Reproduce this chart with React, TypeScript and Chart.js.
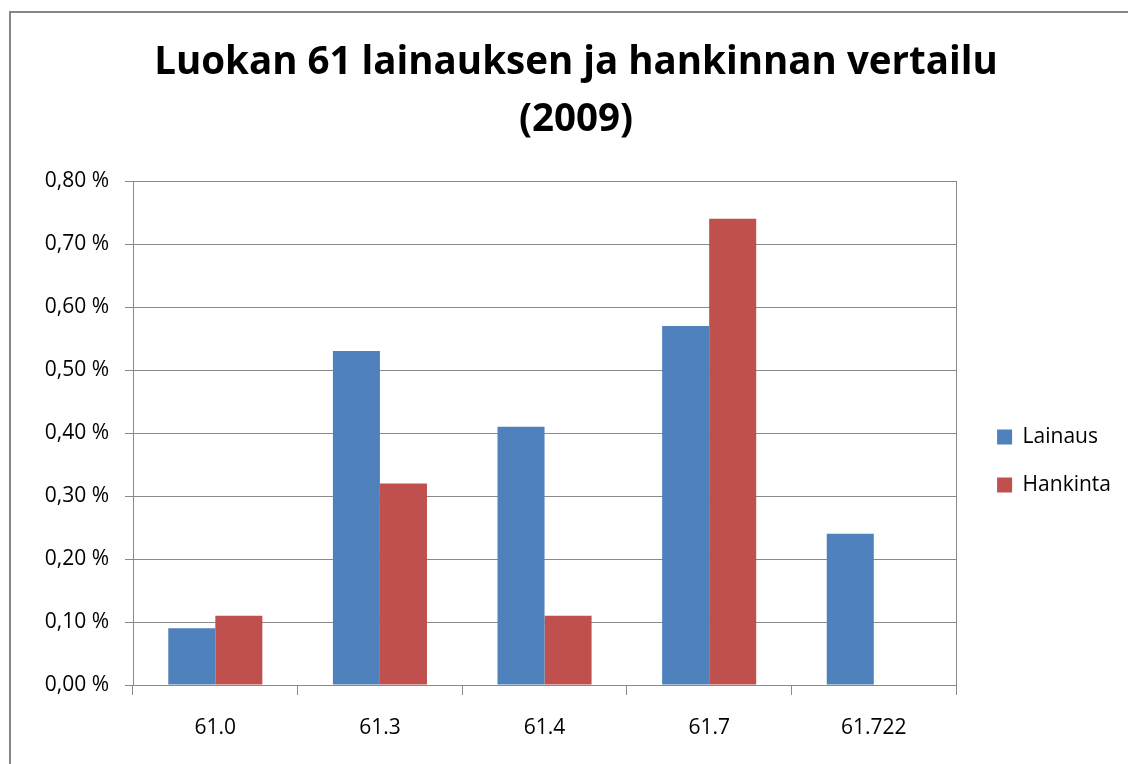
import { useEffect, useRef } from 'react';
import { Chart, registerables } from 'chart.js';

Chart.register(...registerables);

const categories = ['61.0', '61.3', '61.4', '61.7', '61.722'];
const lainaus = [0.09, 0.53, 0.41, 0.57, 0.24];
const hankinta: (number | null)[] = [0.11, 0.32, 0.11, 0.74, null];
const titleLines = ['Luokan 61 lainauksen ja hankinnan vertailu', '(2009)'];
const seriesNames = ['Lainaus', 'Hankinta'];
const yMin = 0;
const yMax = 0.8;
const yStep = 0.1;

const FONT = "'Open Sans', 'Noto Sans', sans-serif";
const GRID = '#8a8a8a';
const PAD_LEFT = 31;

export default function App() {
  const ref = useRef<HTMLCanvasElement | null>(null);

  useEffect(() => {
    if (!ref.current) return;
    const chart = new Chart(ref.current, {
      type: 'bar',
      data: {
        labels: categories,
        datasets: [
          {
            label: seriesNames[0],
            data: lainaus,
            backgroundColor: '#4F81BD',
            borderWidth: 0,
            barPercentage: 1,
            categoryPercentage: 1 / 1.75,
          },
          {
            label: seriesNames[1],
            data: hankinta,
            backgroundColor: '#C0504D',
            borderWidth: 0,
            barPercentage: 1,
            categoryPercentage: 1 / 1.75,
          },
        ],
      },
      options: {
        responsive: false,
        animation: false,
        layout: { padding: { left: PAD_LEFT, right: 7, top: 0, bottom: 0 } },
        plugins: {
          tooltip: { enabled: false },
          title: {
            display: true,
            text: titleLines,
            color: '#000',
            font: { family: FONT, size: 38.5, weight: 'bold', lineHeight: 57 / 38.5 },
            padding: { top: 34.5, bottom: 32.5 },
          },
          legend: {
            position: 'right',
            title: {
              display: true,
              text: ' ',
              font: { family: FONT, size: 10, lineHeight: 1 },
              padding: { top: 148, bottom: 0 },
            },
            labels: {
              color: '#000',
              font: { family: FONT, size: 21 },
              boxWidth: 15,
              boxHeight: 15,
              padding: 27,
            },
          },
        },
        scales: {
          x: {
            grid: {
              display: true,
              drawOnChartArea: false,
              drawTicks: true,
              tickLength: 10,
              offset: true,
              color: GRID,
              tickColor: GRID,
            },
            border: { display: true, color: GRID, width: 1 },
            ticks: {
              color: '#000',
              font: { family: FONT, size: 21 },
              padding: 20,
            },
            afterFit: (scale: any) => {
              scale.height = 79;
            },
          },
          y: {
            min: yMin,
            max: yMax,
            grid: {
              color: GRID,
              tickColor: GRID,
              tickLength: 8,
            },
            border: { display: true, color: GRID, width: 1 },
            ticks: {
              stepSize: yStep,
              color: '#000',
              font: { family: FONT, size: 21 },
              padding: 16,
              callback: (v: any) => Number(v).toFixed(2).replace('.', ',') + ' %',
            },
            afterFit: (scale: any) => {
              scale.width = 133 - PAD_LEFT;
            },
          },
          y2: {
            position: 'right',
            grid: { display: false },
            border: { display: true, color: GRID, width: 1 },
            ticks: { display: false },
            afterFit: (scale: any) => {
              scale.width = 14;
            },
          },
        },
      },
    });
    return () => chart.destroy();
  }, []);

  return (
    <div
      style={{
        position: 'fixed',
        left: 0,
        top: 0,
        width: 1128,
        height: 764,
        overflow: 'hidden',
        background: '#fff',
      }}
    >
      <div
        style={{
          position: 'absolute',
          left: 9,
          top: 11,
          width: 1300,
          height: 900,
          borderLeft: '2px solid #878787',
          borderTop: '2px solid #878787',
        }}
      />
      <canvas
        ref={ref}
        width={1128}
        height={764}
        style={{ position: 'absolute', left: 0, top: 0, width: 1128, height: 764 }}
      />
    </div>
  );
}
